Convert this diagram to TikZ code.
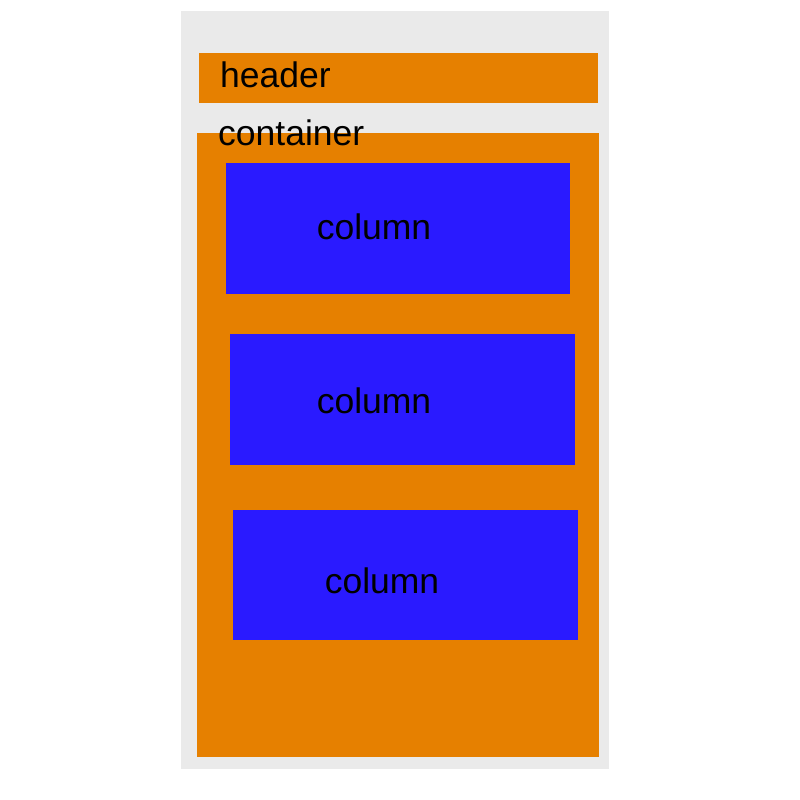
\documentclass[tikz,border=0pt]{standalone}
\usepackage{fontspec}
\setmainfont{Liberation Sans}
\definecolor{bggray}{HTML}{EAEAEA}
\definecolor{boxorange}{HTML}{E68000}
\definecolor{colblue}{HTML}{2A1AFF}
\begin{document}
\begin{tikzpicture}[x=1pt,y=-1pt,
  lbl/.style={font=\fontsize{35.5}{40}\selectfont, text=black, inner sep=0pt},
  orangebox/.style={fill=boxorange, draw=none},
  bluebox/.style={fill=colblue, draw=none}]
\useasboundingbox (0,0) rectangle (800,800);
\fill[bggray] (181,11) rectangle (609,769);
\node[orangebox, minimum width=399pt, minimum height=50pt, anchor=north west, inner sep=0pt] (header) at (199,53) {};
\node[lbl, anchor=west] (headertxt) at (220,75) {header};
\node[orangebox, minimum width=402pt, minimum height=624pt, anchor=north west, inner sep=0pt] (container) at (197,133) {};
\node[lbl, anchor=west] (containertxt) at (218,133) {container};
\node[bluebox, minimum width=344pt, minimum height=131pt, anchor=north west, inner sep=0pt] (col1) at (226,163) {};
\node[lbl] (col1txt) at (374,227) {column};
\node[bluebox, minimum width=345pt, minimum height=131pt, anchor=north west, inner sep=0pt] (col2) at (230,334) {};
\node[lbl] (col2txt) at (374,401) {column};
\node[bluebox, minimum width=345pt, minimum height=130pt, anchor=north west, inner sep=0pt] (col3) at (233,510) {};
\node[lbl] (col3txt) at (382,581) {column};
\end{tikzpicture}
\end{document}
